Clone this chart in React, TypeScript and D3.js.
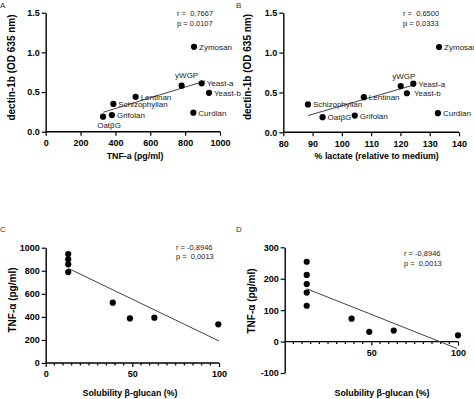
import React, { useRef, useEffect } from 'react';
import { select, scaleLinear, axisBottom, axisLeft, range } from 'd3';

// glucan preparations (panels A and B)
const glucans = ['Zymosan', 'yWGP', 'Yeast-a', 'Yeast-b', 'Curdlan', 'Lentinan', 'Schizophyllan', 'Grifolan', 'OatβG'];
const tnfA = [851, 780, 895, 937, 847, 516, 388, 380, 329];
const dectin = [1.07, 0.58, 0.61, 0.49, 0.24, 0.44, 0.35, 0.21, 0.19];
const lactate = [133.2, 120.1, 124.4, 122.2, 132.8, 107.5, 88.4, 104.4, 93.4];

// panel C / D
const solubilityC = [13, 13, 13, 13, 38.7, 48.6, 62.7, 99.6];
const tnfC = [945, 899, 856, 789, 523, 387, 393, 335];
const solubilityD = [12.7, 12.7, 12.7, 12.7, 12.7, 38.6, 48.8, 62.9, 100];
const tnfD = [254, 212, 183, 156, 114, 73, 31, 35, 20];

// fitted lines as drawn (start, end)
const fitA = { x: [330, 915], y: [0.245, 0.64] };
const fitB = { x: [88.4, 125.2], y: [0.21, 0.6] };
const fitC = { x: [13, 100], y: [821, 191] };
const fitD = { x: [12.7, 99.5], y: [168, -22] };

const ticksA = [0, 200, 400, 600, 800, 1000];
const ticksB = [80, 90, 100, 110, 120, 130, 140];
const ticksDectin = [0, 0.5, 1.0, 1.5];
const ticksC = [0, 200, 400, 600, 800, 1000];
const ticksD = [-100, 0, 100, 200, 300];

const FONT = '"Liberation Sans", Arial, sans-serif';

// label offsets relative to the dot [dx, dy, anchor]
const labelPosA = {
  yWGP: [5, -8, 'middle'],
  'OatβG': [6, 11, 'middle'],
};
const labelPosB = {
  yWGP: [3, -7, 'middle'],
  'Yeast-b': [7, 3, 'start'],
};

function Panel({ cfg }) {
  const gRef = useRef();

  useEffect(() => {
    const g = select(gRef.current);
    g.selectAll('*').remove();

    const x = scaleLinear().domain(cfg.xDomain).range(cfg.xRange);
    const y = scaleLinear().domain(cfg.yDomain).range(cfg.yRange);
    const x0 = cfg.xRange[0];

    // y axis
    const ya = g.append('g')
      .attr('transform', `translate(${x0},0)`)
      .call(axisLeft(y).tickValues(cfg.yTicks).tickFormat(cfg.yFormat).tickSize(4).tickPadding(2).tickSizeOuter(0));

    // x axis (at y=0 for D)
    const xaY = cfg.xAxisAt !== undefined ? y(cfg.xAxisAt) : cfg.yRange[0];
    const xa = g.append('g')
      .attr('transform', `translate(0,${xaY})`)
      .call(axisBottom(x).tickValues(cfg.xTicks).tickFormat(cfg.xFormat).tickSize(4).tickPadding(4).tickSizeOuter(0));

    if (cfg.minor) {
      xa.selectAll('.minor')
        .data(range(cfg.xDomain[0] + 5, cfg.xDomain[1], 5).filter((v) => !cfg.xTicks.includes(v)))
        .join('line')
        .attr('class', 'minor')
        .attr('x1', (d) => x(d))
        .attr('x2', (d) => x(d))
        .attr('y1', 0)
        .attr('y2', 2.5)
        .attr('stroke', '#000')
        .attr('stroke-width', 1.2);
    }

    [ya, xa].forEach((a) => {
      a.select('.domain').attr('stroke-width', 1.4);
      a.selectAll('.tick line').attr('stroke-width', 1.2);
      a.selectAll('.tick text')
        .attr('font-family', FONT)
        .attr('font-weight', 'bold')
        .attr('font-size', 9)
        .attr('fill', '#000');
    });
    xa.select('.domain').attr('d', `M${x0},0H${cfg.xRange[1]}`);

    // fit line
    g.append('line')
      .attr('x1', x(cfg.fit.x[0]))
      .attr('y1', y(cfg.fit.y[0]))
      .attr('x2', x(cfg.fit.x[1]))
      .attr('y2', y(cfg.fit.y[1]))
      .attr('stroke', '#444')
      .attr('stroke-width', 1);

    // dots
    g.selectAll('.dot')
      .data(cfg.xs)
      .join('circle')
      .attr('class', 'dot')
      .attr('cx', (d) => x(d))
      .attr('cy', (d, i) => y(cfg.ys[i]))
      .attr('r', 3.1)
      .attr('fill', '#000');

    if (cfg.labels) {
      g.selectAll('.lbl')
        .data(cfg.labels)
        .join('text')
        .attr('class', 'lbl')
        .attr('x', (d, i) => x(cfg.xs[i]) + (cfg.labelPos[d] ? cfg.labelPos[d][0] : 5))
        .attr('y', (d, i) => y(cfg.ys[i]) + (cfg.labelPos[d] ? cfg.labelPos[d][1] : 3))
        .attr('text-anchor', (d) => (cfg.labelPos[d] ? cfg.labelPos[d][2] : 'start'))
        .attr('font-family', FONT)
        .attr('font-size', 8)
        .attr('fill', '#222')
        .text((d) => d);
    }

    // stats
    cfg.stats.forEach((s, i) => {
      g.append('text')
        .attr('x', cfg.statsPos[0])
        .attr('y', cfg.statsPos[1] + i * 9.5)
        .attr('font-family', FONT)
        .attr('font-size', 7.5)
        .attr('fill', '#222')
        .style('white-space', 'pre')
        .text(s);
    });

    // titles
    g.append('text')
      .attr('x', cfg.xTitlePos[0])
      .attr('y', cfg.xTitlePos[1])
      .attr('text-anchor', 'middle')
      .attr('font-family', FONT)
      .attr('font-weight', 'bold')
      .attr('font-size', 8.8)
      .text(cfg.xTitle);

    g.append('text')
      .attr('transform', `translate(${cfg.yTitlePos[0]},${cfg.yTitlePos[1]}) rotate(-90)`)
      .attr('text-anchor', 'middle')
      .attr('dominant-baseline', 'central')
      .attr('font-family', FONT)
      .attr('font-weight', 'bold')
      .attr('font-size', 10)
      .text(cfg.yTitle);

    g.append('text')
      .attr('x', cfg.letterPos[0])
      .attr('y', cfg.letterPos[1])
      .attr('font-family', FONT)
      .attr('font-size', 8)
      .attr('fill', '#333')
      .text(cfg.letter);
  }, [cfg]);

  return <g ref={gRef} />;
}

const panels = [
  {
    letter: 'A', letterPos: [0, 8],
    xs: tnfA, ys: dectin, labels: glucans, labelPos: labelPosA,
    xDomain: [0, 1000], xRange: [45.7, 220], yDomain: [0, 1.5], yRange: [131.7, 12.7],
    xTicks: ticksA, yTicks: ticksDectin, xFormat: (d) => d, yFormat: (d) => d.toFixed(1),
    fit: fitA, stats: ['r =  0,7667', 'p = 0.0107'], statsPos: [177, 16],
    xTitle: 'TNF-a (pg/ml)', xTitlePos: [135, 159],
    yTitle: 'dectin-1b (OD 635 nm)', yTitlePos: [11.7, 67.5],
  },
  {
    letter: 'B', letterPos: [236, 8],
    xs: lactate, ys: dectin, labels: glucans, labelPos: labelPosB,
    xDomain: [80, 140], xRange: [283.3, 459], yDomain: [0, 1.5], yRange: [132.3, 12.7],
    xTicks: ticksB, yTicks: ticksDectin, xFormat: (d) => d, yFormat: (d) => d.toFixed(1),
    fit: fitB, stats: ['r =  0,6500', 'p = 0,0333'], statsPos: [403, 16],
    xTitle: '% lactate (relative to medium)', xTitlePos: [376.7, 159],
    yTitle: 'dectin-1b (OD 635 nm)', yTitlePos: [247, 67],
  },
  {
    letter: 'C', letterPos: [0, 232],
    xs: solubilityC, ys: tnfC, minor: true,
    xDomain: [0, 100], xRange: [45.7, 219], yDomain: [0, 1000], yRange: [363, 247.7],
    xTicks: [0, 50, 100], yTicks: ticksC, xFormat: (d) => d, yFormat: (d) => d,
    fit: fitC, stats: ['r = -0,8946', 'p =  0,0013'], statsPos: [176, 249.5],
    xTitle: 'Solubility β-glucan (%)', xTitlePos: [130, 396],
    yTitle: 'TNF-α (pg/ml)', yTitlePos: [12.5, 300],
  },
  {
    letter: 'D', letterPos: [236, 232],
    xs: solubilityD, ys: tnfD, minor: true, xAxisAt: 0,
    xDomain: [0, 100], xRange: [284.7, 458], yDomain: [-100, 300], yRange: [373, 247.3],
    xTicks: [50, 100], yTicks: ticksD, xFormat: (d) => d, yFormat: (d) => d,
    fit: fitD, stats: ['r = -0,8946', 'p =  0,0013'], statsPos: [404, 256],
    xTitle: 'Solubility β-glucan (%)', xTitlePos: [382, 396],
    yTitle: 'TNF-α (pg/ml)', yTitlePos: [251.5, 301],
  },
];

export default function App() {
  return (
    <svg
      width={474}
      height={399}
      style={{ position: 'absolute', left: 0, top: 0, background: '#fff' }}
    >
      <rect width={474} height={399} fill="#fff" />
      {panels.map((p) => (
        <Panel key={p.letter} cfg={p} />
      ))}
    </svg>
  );
}
